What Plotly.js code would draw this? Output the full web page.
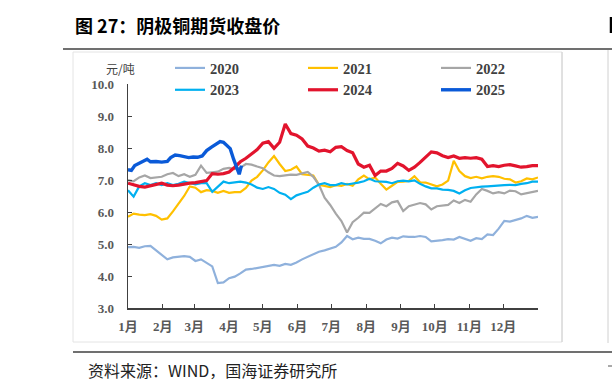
<!DOCTYPE html>
<html><head><meta charset="utf-8">
<script src="https://cdn.plot.ly/plotly-3.0.1.min.js"></script>
<style>html,body{margin:0;padding:0;background:#fff;}#chart{width:612px;height:392px;}</style>
</head><body><div id="chart"></div>
<script>
// ---- data (day of year, value in 10k yuan/ton) ----
const days = [0,5,10,15,20,25,30,35,40,45,50,55,60,65,70,75,80,85,90,95,100,105,110,115,120,125,130,135,140,145,150,155,160,165,170,175,180,185,190,195,200,205,210,215,220,225,230,235,240,245,250,255,260,265,270,275,280,285,290,295,300,305,310,315,320,325,330,335,340,345,350,355,360,365];
const y2020 = [4.90,4.91,4.88,4.93,4.94,4.80,4.64,4.52,4.58,4.59,4.62,4.60,4.47,4.52,4.42,4.30,3.78,3.80,3.93,3.98,4.08,4.20,4.22,4.25,4.29,4.32,4.35,4.32,4.38,4.35,4.42,4.52,4.60,4.70,4.76,4.80,4.85,4.91,5.05,5.25,5.15,5.20,5.16,5.16,5.10,5.02,5.14,5.20,5.17,5.24,5.22,5.22,5.25,5.22,5.08,5.09,5.12,5.15,5.14,5.22,5.16,5.10,5.18,5.15,5.30,5.28,5.48,5.72,5.70,5.74,5.80,5.88,5.82,5.85];
const y2021 = [5.85,5.95,5.92,5.90,5.93,5.88,5.76,5.80,6.02,6.25,6.50,6.80,6.76,6.62,6.68,6.66,6.60,6.66,6.60,6.62,6.62,6.75,6.98,7.10,7.30,7.55,7.75,7.50,7.28,7.32,7.42,7.18,7.15,7.14,6.85,6.82,6.78,6.84,6.82,6.88,6.82,7.02,7.14,7.02,7.08,6.88,6.70,6.82,6.94,6.95,6.97,7.12,6.93,6.92,6.85,6.80,6.86,6.98,7.60,7.28,7.12,7.06,7.10,7.05,7.10,7.12,7.10,7.04,7.02,6.92,6.96,7.05,7.02,7.08];
const y2022 = [7.00,6.96,7.08,7.14,7.06,7.08,7.10,7.18,7.22,7.12,7.18,7.10,7.16,7.45,7.22,7.24,7.26,7.35,7.38,7.34,7.38,7.50,7.48,7.42,7.37,7.24,7.14,7.12,7.14,7.17,7.16,7.21,7.25,7.10,6.85,6.45,6.22,5.95,5.72,5.36,5.68,5.82,5.98,5.97,6.11,6.25,6.18,6.30,6.34,6.03,6.18,6.24,6.28,6.24,6.08,6.18,6.20,6.22,6.36,6.28,6.38,6.32,6.55,6.72,6.66,6.58,6.62,6.58,6.67,6.65,6.55,6.58,6.61,6.66];
const y2023 = [6.68,6.48,6.80,6.90,6.84,6.90,6.84,6.90,6.84,6.88,6.95,6.90,6.86,6.90,6.90,6.63,6.80,6.95,6.90,6.92,6.95,6.92,6.86,6.76,6.72,6.78,6.72,6.60,6.54,6.40,6.52,6.58,6.63,6.76,6.86,6.90,6.84,6.84,6.90,6.86,6.88,6.92,6.96,7.04,6.96,6.96,6.94,6.90,6.96,6.98,6.96,6.99,6.88,6.80,6.74,6.74,6.70,6.69,6.66,6.58,6.68,6.75,6.78,6.79,6.80,6.82,6.82,6.84,6.85,6.84,6.88,6.90,6.95,6.95];
const y2024 = [6.90,6.85,6.80,6.78,6.82,6.86,6.90,6.84,6.82,6.84,6.88,6.90,6.92,6.95,6.98,7.20,7.18,7.20,7.25,7.40,7.57,7.68,7.80,7.95,8.15,8.20,7.99,8.18,8.75,8.45,8.40,8.28,8.06,8.00,7.90,7.93,7.88,8.02,8.04,7.92,7.85,7.50,7.40,7.46,7.14,7.28,7.28,7.36,7.52,7.44,7.30,7.40,7.55,7.72,7.88,7.85,7.76,7.70,7.75,7.68,7.70,7.68,7.70,7.65,7.42,7.45,7.42,7.46,7.48,7.44,7.40,7.42,7.45,7.45];
const days2025 = [0,3,6,10,14,17,20,25,30,35,38,42,46,50,54,58,62,66,70,74,78,82,85,88,91,94,97,99,101];
const y2025 = [7.32,7.30,7.45,7.52,7.58,7.65,7.57,7.58,7.56,7.58,7.70,7.78,7.76,7.74,7.70,7.72,7.71,7.75,7.92,8.02,8.10,8.20,8.18,8.08,7.98,7.65,7.35,7.18,7.45];
const monthStarts = [0,31,59,90,120,151,181,212,243,273,304,334];
const monthLabels = ['1月','2月','3月','4月','5月','6月','7月','8月','9月','10月','11月','12月'];
const seriesNames = ['2020','2021','2022','2023','2024','2025'];

// ---- layout helpers (pixel -> paper) ----
const W = 612, H = 392, L = 128, R = 538, T = 84, B = 308;
const px = v => (v - L) / (R - L);
const py = v => (B - v) / (B - T);

const colors = ['#8FB1DC','#FFC000','#A6A6A6','#00B0F0','#E2142D','#0A5AD8'];
const widths = [2.2,2.2,2.2,2.2,3.2,3.4];
const ys = [y2020,y2021,y2022,y2023,y2024];
const traces = ys.map((y,i)=>({x:days,y:y,type:'scatter',mode:'lines',name:seriesNames[i],
  line:{color:colors[i],width:widths[i]},hoverinfo:'skip'}));
traces.push({x:days2025,y:y2025,type:'scatter',mode:'lines',name:seriesNames[5],
  line:{color:colors[5],width:widths[5]},hoverinfo:'skip'});

const tickFont = {family:'Liberation Serif, "Noto Sans CJK SC", serif',size:13,color:'#595959',weight:'bold'};
const layout = {
  width:W,height:H,
  margin:{l:L,r:W-R,t:T,b:H-B,pad:0},
  paper_bgcolor:'#fff',plot_bgcolor:'#fff',
  showlegend:true,
  legend:{orientation:'h',x:px(170),y:py(52),xanchor:'left',yanchor:'top',
    entrywidth:88,entrywidthmode:'pixels',bgcolor:'rgba(0,0,0,0)',
    font:{family:'Liberation Serif, serif',size:14.5,color:'#404040',weight:'bold'}},
  xaxis:{range:[0,365],tickmode:'array',tickvals:monthStarts,ticktext:monthLabels,
    ticks:'inside',ticklen:4,tickcolor:'#404040',showline:true,linecolor:'#404040',linewidth:1.5,
    showgrid:false,zeroline:false,tickfont:tickFont,ticklabelstandoff:6,fixedrange:true},
  yaxis:{range:[3,10],dtick:1,tick0:3,tickformat:'.1f',ticks:'inside',ticklen:4,tickcolor:'#404040',
    showline:true,linecolor:'#404040',linewidth:1.5,showgrid:false,zeroline:false,
    tickfont:tickFont,ticklabelstandoff:10,fixedrange:true},
  shapes:[
    {type:'rect',xref:'paper',yref:'paper',x0:px(73),x1:px(562),y0:py(342),y1:py(52),line:{color:'#E4E4E4',width:1},layer:'below'},
    {type:'line',xref:'paper',yref:'paper',x0:px(562),x1:px(562),y0:py(342),y1:py(52),line:{color:'#D0D0D0',width:1}},
    {type:'line',xref:'paper',yref:'paper',x0:px(608),x1:px(608),y0:py(343),y1:py(50),line:{color:'#D0D0D0',width:1}},
    {type:'line',xref:'paper',yref:'paper',x0:px(63),x1:px(612),y0:py(49),y1:py(49),line:{color:'#707070',width:2}},
    {type:'line',xref:'paper',yref:'paper',x0:px(73),x1:px(612),y0:py(352),y1:py(352),line:{color:'#707070',width:2}},
    // edge fragments of the neighbouring figure (clipped glyph strokes)
    {type:'line',xref:'paper',yref:'paper',x0:px(611),x1:px(611),y0:py(33),y1:py(17),line:{color:'#000',width:2.5}},
    {type:'line',xref:'paper',yref:'paper',x0:px(608),x1:px(612),y0:py(366),y1:py(366),line:{color:'#555',width:1}}
  ],
  annotations:[
    {text:'图 27：阴极铜期货收盘价',xref:'paper',yref:'paper',x:px(73),y:py(25),xanchor:'left',yanchor:'middle',showarrow:false,
      font:{family:'"Noto Sans CJK SC", sans-serif',size:18,color:'#000',weight:'bold'}},
    {text:'元/吨',xref:'paper',yref:'paper',x:px(120),y:py(69),xanchor:'center',yanchor:'middle',showarrow:false,
      font:{family:'"Noto Sans CJK SC", serif',size:12,color:'#404040'}},
    {text:'资料来源：WIND，国海证券研究所',xref:'paper',yref:'paper',x:px(86),y:py(370),xanchor:'left',yanchor:'middle',showarrow:false,
      font:{family:'"Noto Sans CJK SC", sans-serif',size:16,color:'#222'}}
  ]
};
Plotly.newPlot('chart',traces,layout,{displayModeBar:false,staticPlot:true});
</script></body></html>
